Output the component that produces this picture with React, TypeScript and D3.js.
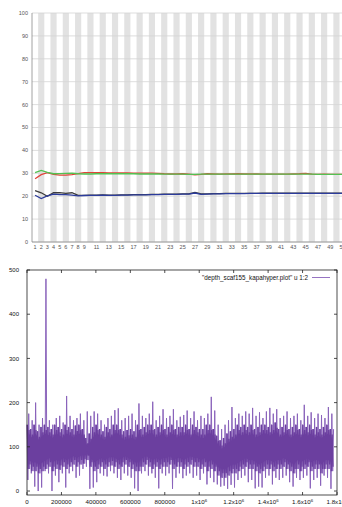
import React from "react";
import * as d3 from "d3";

// ---------- Top chart data ----------
const positions = d3.range(1, 52);
const posLabels = [1, 2, 3, 4, 5, 6, 7, 8, 9, 11, 13, 15, 17, 19, 21, 23, 25, 27, 29, 31, 33, 35, 37, 39, 41, 43, 45, 47, 49, 51];
const yTicksTop = [0, 10, 20, 30, 40, 50, 60, 70, 80, 90, 100];
const greenSeries = [30.3,31.3,30.4,29.8,29.9,30.0,30.1,29.8,29.7,29.7,29.8,29.8,29.8,29.8,29.9,29.8,29.8,29.7,29.7,29.7,29.7,29.6,29.6,29.6,29.6,29.5,29.5,29.6,29.6,29.6,29.6,29.6,29.6,29.6,29.6,29.6,29.6,29.6,29.6,29.6,29.6,29.6,29.6,29.6,29.6,29.6,29.5,29.5,29.5,29.5,29.5];
const redSeries = [27.6,29.4,30.3,29.5,29.2,29.2,29.4,29.9,30.3,30.3,30.3,30.3,30.2,30.2,30.2,30.2,30.1,30.1,30.1,30.1,30.0,29.8,29.7,29.7,29.8,29.6,29.3,29.5,29.8,29.7,29.6,29.7,29.7,29.8,29.7,29.7,29.7,29.6,29.6,29.6,29.6,29.6,29.7,29.8,30.0,29.6,29.5,29.6,29.5,29.5,29.5];
const blackSeries = [22.4,21.5,20.0,21.5,21.6,21.2,21.5,20.4,20.4,20.5,20.5,20.6,20.5,20.5,20.6,20.6,20.7,20.7,20.7,20.8,20.8,20.9,20.9,20.9,21.0,21.0,21.6,21.0,21.0,21.1,21.1,21.2,21.2,21.2,21.2,21.2,21.2,21.3,21.3,21.3,21.3,21.3,21.3,21.3,21.3,21.3,21.3,21.3,21.3,21.3,21.3];
const blueSeries = [20.4,19.0,20.1,20.9,20.7,20.7,20.5,20.1,20.3,20.4,20.4,20.5,20.4,20.4,20.5,20.5,20.6,20.6,20.6,20.7,20.7,20.8,20.8,20.8,20.9,20.9,21.4,20.8,20.9,21.0,21.0,21.1,21.1,21.1,21.1,21.2,21.2,21.2,21.2,21.2,21.2,21.2,21.2,21.2,21.2,21.2,21.2,21.2,21.2,21.2,21.2];

// ---------- Bottom chart data (per 20000-bp bin) ----------
const binSize = 20000;
const depthHi = [175,160,200,150,165,480,160,150,165,170, 155,215,170,160,165,175,160,180,170,180, 175,160,150,165,170,183,187,160,165,170, 175,160,198,170,165,175,202,160,170,185, 165,170,185,160,168,172,182,165,180,160, 170,165,175,213,182,150,140,150,160,190, 165,175,170,180,175,188,170,178,165,180, 188,175,185,165,170,180,165,170,175,160, 195,170,178,165,175,172,165,190,175];
const depthLo = [25,40,10,0,8,45,40,0,35,20, 40,8,40,45,30,35,50,55,5,8, 20,40,35,33,45,40,30,25,40,35, 30,6,0,40,45,35,40,30,6,40, 35,40,5,30,40,29,35,40,30,35, 25,40,15,30,20,15,10,12,5,14, 8,25,30,35,20,25,6,10,8,30, 35,15,30,25,30,35,20,10,30,25, 30,35,6,25,30,12,35,30,5];
const coreHi = [150,140,150,135,145,150,145,140,150,145, 140,150,145,140,148,150,140,120,130,145, 150,140,135,145,140,150,150,140,135,138, 140,135,150,140,145,150,150,140,145,150, 140,145,150,140,145,145,150,140,150,145, 140,140,150,150,140,125,115,120,130,135, 140,150,145,150,145,150,140,145,150,150, 145,150,155,140,145,150,140,145,150,140, 150,145,150,140,145,140,145,150,140];
const coreLo = [50,45,45,40,45,50,55,45,50,48, 55,50,55,60,55,60,62,70,55,45, 50,55,50,55,58,55,50,55,60,55, 50,45,45,55,60,55,50,55,50,55, 55,60,50,55,55,50,55,60,55,55, 50,55,45,50,45,35,30,30,35,40, 40,45,50,55,50,50,45,40,45,50, 50,45,50,50,55,50,45,40,50,45, 50,55,45,50,50,40,50,50,45];
const yTicksBottom = [0, 100, 200, 300, 400, 500];
const xTicksBottom = [0, 200000, 400000, 600000, 800000, 1000000, 1200000, 1400000, 1600000, 1800000];
const legendText = '"depth_scaf155_kapahyper.plot" u 1:2';

const FONT = "'Liberation Sans', Arial, sans-serif";

function TopChart() {
  const x = d3.scaleBand<number>().domain(positions).range([32, 32 + 51 * 6.15]);
  const y = d3.scaleLinear().domain([0, 100]).range([242, 13]);
  const line = d3
    .line<number>()
    .x((_, i) => (x(positions[i]) as number) + x.bandwidth() / 2)
    .y((d) => y(d));
  const series = [
    { data: blackSeries, color: "#3c3c3c" },
    { data: blueSeries, color: "#2c3c9c" },
    { data: redSeries, color: "#e0443a" },
    { data: greenSeries, color: "#52c152" },
  ];
  return (
    <g>
      {positions.map((p) =>
        p % 2 === 0 ? (
          <rect key={p} x={x(p)} y={y(100)} width={x.bandwidth()} height={y(0) - y(100)} fill="#e2e2e2" />
        ) : null
      )}
      {yTicksTop.map((t) => (
        <line key={t} x1={32} x2={342} y1={y(t)} y2={y(t)} stroke="#d4d4d4" strokeWidth={0.8} />
      ))}
      <line x1={32} x2={32} y1={y(100)} y2={y(0)} stroke="#8a8a8a" strokeWidth={0.8} />
      <line x1={32} x2={342} y1={y(0)} y2={y(0)} stroke="#8a8a8a" strokeWidth={0.8} />
      {yTicksTop.map((t) => (
        <text key={t} x={28} y={y(t)} dy="0.35em" textAnchor="end" fontSize={5.5} fill="#555" fontFamily={FONT}>
          {t}
        </text>
      ))}
      {posLabels.map((p) => (
        <text key={p} x={(x(p) as number) + x.bandwidth() / 2} y={248.5} textAnchor="middle" fontSize={5.5} fill="#555" fontFamily={FONT}>
          {p}
        </text>
      ))}
      {series.map((s, i) => (
        <path key={i} d={line(s.data) || ""} fill="none" stroke={s.color} strokeWidth={1.3} />
      ))}
    </g>
  );
}

function BottomChart() {
  const left = 27, right = 337, top = 270, bottom = 495;
  const x = d3.scaleLinear().domain([0, 1800000]).range([left, right]);
  const y = d3.scaleLinear().domain([-9, 500]).range([bottom, top]);
  const spikePts: [number, number][] = [];
  depthHi.forEach((h, i) => {
    const x0 = i * binSize;
    spikePts.push([x0, coreHi[i]]);
    spikePts.push([x0 + binSize * 0.25, depthLo[i]]);
    spikePts.push([x0 + binSize * 0.5, h]);
    spikePts.push([x0 + binSize * 0.75, coreLo[i]]);
  });
  spikePts.push([depthHi.length * binSize, coreHi[coreHi.length - 1]]);
  const line = d3.line<[number, number]>().x((d) => x(d[0])).y((d) => y(d[1]));
  const corePts: [number, number][] = [];
  coreHi.forEach((h, i) => {
    const x0 = i * binSize;
    corePts.push([x0 + binSize * 0.1, h]);
    corePts.push([x0 + binSize * 0.35, coreLo[i]]);
    corePts.push([x0 + binSize * 0.6, h - 12]);
    corePts.push([x0 + binSize * 0.85, coreLo[i] + 10]);
  });
  const area = d3
    .area<number>()
    .x((_, i) => x(i * binSize + binSize * 0.5))
    .y0((_, i) => y(coreLo[i] + 20))
    .y1((d) => y(d - 20));
  const fmt = (v: number) => {
    if (v >= 1000000) {
      const m = v / 1000000;
      return { base: (m === 1 ? "1" : m.toFixed(1)) + "x10", sup: "6" };
    }
    return { base: String(v), sup: "" };
  };
  return (
    <g>
      <path d={line(spikePts) || ""} fill="none" stroke="#8a63bb" strokeWidth={1} />
      <path d={line(corePts) || ""} fill="none" stroke="#6b3f9f" strokeWidth={1.3} />
      <path d={area(coreHi) || ""} fill="#6b3f9f" />
      <rect x={left} y={top} width={right - left} height={bottom - top} fill="none" stroke="#222" strokeWidth={0.8} />
      {yTicksBottom.map((t) => (
        <g key={t}>
          <line x1={left} x2={left + 3} y1={y(t)} y2={y(t)} stroke="#222" strokeWidth={0.8} />
          <line x1={right} x2={right - 3} y1={y(t)} y2={y(t)} stroke="#222" strokeWidth={0.8} />
          <text x={19} y={y(t)} dy="0.35em" textAnchor="end" fontSize={6} fill="#111" fontFamily={FONT}>
            {t}
          </text>
        </g>
      ))}
      {xTicksBottom.map((t) => {
        const f = fmt(t);
        return (
          <g key={t}>
            <line x1={x(t)} x2={x(t)} y1={bottom} y2={bottom - 3} stroke="#222" strokeWidth={0.8} />
            <line x1={x(t)} x2={x(t)} y1={top} y2={top + 3} stroke="#222" strokeWidth={0.8} />
            <text x={x(t)} y={504} textAnchor="middle" fontSize={6.2} fill="#111" fontFamily={FONT}>
              {f.base}
              {f.sup ? (
                <tspan fontSize={4.3} dy={-2.5}>
                  {f.sup}
                </tspan>
              ) : null}
            </text>
          </g>
        );
      })}
      <text x={308} y={279.5} textAnchor="end" fontSize={6.3} fill="#111" fontFamily={FONT}>
        {legendText}
      </text>
      <line x1={312} x2={330} y1={277.5} y2={277.5} stroke="#8a63bb" strokeWidth={0.9} />
    </g>
  );
}

export default function App() {
  return (
    <svg
      width={342}
      height={507}
      style={{ position: "absolute", left: 0, top: 0, background: "#fff" }}
      xmlns="http://www.w3.org/2000/svg"
    >
      <rect width={342} height={507} fill="#fff" />
      <TopChart />
      <BottomChart />
    </svg>
  );
}
